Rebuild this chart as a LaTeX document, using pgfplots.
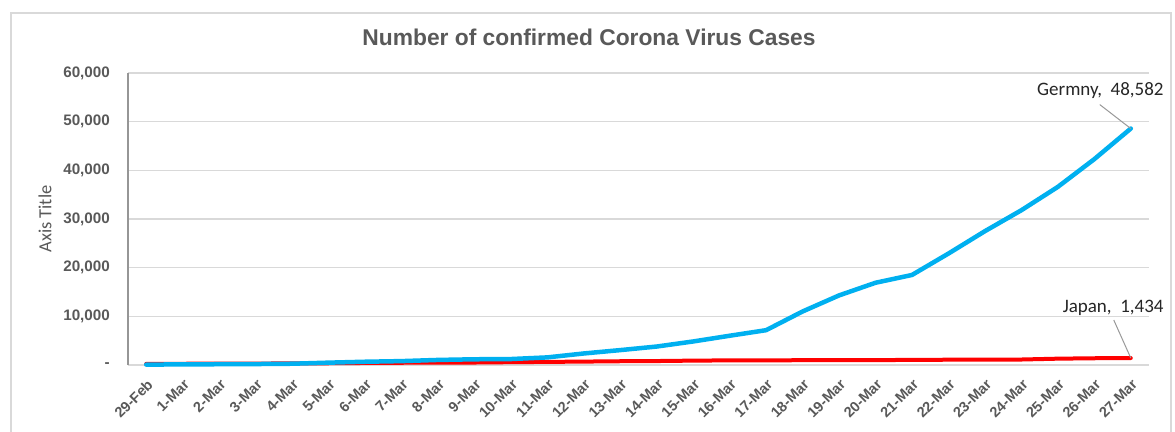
\documentclass[border=0pt]{standalone}
\usepackage{pgfplots}
\pgfplotsset{compat=1.18}
\usepackage{fontspec}
\setmainfont{Liberation Sans}
\newfontfamily\calibri{Carlito}
\definecolor{gridgray}{HTML}{D9D9D9}
\definecolor{txtgray}{HTML}{595959}
\definecolor{axgray}{HTML}{969696}
\definecolor{lblue}{HTML}{00B0F0}
\definecolor{lred}{HTML}{FF0000}
\definecolor{framegray}{HTML}{D9D9D9}
\definecolor{lblgray}{HTML}{262626}

\pgfplotstableread{
x y
0 241
1 256
2 274
3 293
4 331
5 360
6 420
7 461
8 502
9 511
10 581
11 639
12 701
13 773
14 814
15 900
16 950
17 970
18 980
19 1000
20 1007
21 1046
22 1086
23 1089
24 1128
25 1300
26 1387
27 1434
}\japan

\pgfplotstableread{
x y
0 79
1 130
2 159
3 196
4 262
5 482
6 670
7 799
8 1040
9 1176
10 1224
11 1565
12 2369
13 3062
14 3795
15 4838
16 6012
17 7156
18 11000
19 14300
20 16900
21 18500
22 22900
23 27500
24 31800
25 36600
26 42300
27 48582
}\germany

\begin{document}
\begin{tikzpicture}
\useasboundingbox (0pt,0pt) rectangle (1175pt,-431pt);
\fill[white] (0pt,0pt) rectangle (1175pt,-431pt);
\draw[framegray, line width=2pt] (10.5pt,-13pt) rectangle (1171pt,-470pt);
\node[anchor=base, font=\fontsize{22.8}{26}\selectfont\bfseries, text=txtgray] at (589pt,-45pt) {Number of confirmed Corona Virus Cases};
\node[rotate=90, font=\calibri\fontsize{18.5}{22}\selectfont, text=txtgray] at (45pt,-219pt) {Axis Title};
\begin{axis}[
  at={(128pt,-365pt)}, anchor=south west,
  scale only axis, width=1021pt, height=292pt,
  xmin=-0.5, xmax=27.5, ymin=0, ymax=60000,
  clip=false,
  scaled y ticks=false,
  axis line style={draw=none},
  major tick length=0pt,
  ymajorgrids, grid style={draw=gridgray, line width=1.5pt},
  ytick={0,10000,20000,30000,40000,50000,60000},
  yticklabels={{-},{10,000},{20,000},{30,000},{40,000},{50,000},{60,000}},
  yticklabel style={anchor=east, inner sep=0pt, xshift=-18pt, font=\fontsize{15.2}{17}\selectfont\bfseries, text=txtgray},
  xtick={0,...,27},
  xticklabels={29-Feb,1-Mar,2-Mar,3-Mar,4-Mar,5-Mar,6-Mar,7-Mar,8-Mar,9-Mar,10-Mar,11-Mar,12-Mar,13-Mar,14-Mar,15-Mar,16-Mar,17-Mar,18-Mar,19-Mar,20-Mar,21-Mar,22-Mar,23-Mar,24-Mar,25-Mar,26-Mar,27-Mar},
  xticklabel style={xshift=4pt, yshift=-17pt, rotate=45, anchor=east, inner sep=0pt, font=\fontsize{14.5}{17}\selectfont\bfseries, text=txtgray},
]
\draw[axgray, line width=1.5pt] (rel axis cs:0,0) -- (rel axis cs:0,1);
\addplot[lred, line width=4pt, line cap=round, line join=round, no marks] table[x=x,y=y] {\japan};
\addplot[lblue, line width=4.5pt, line cap=round, line join=round, no marks] table[x=x,y=y] {\germany};
\draw[gray!80, line width=1pt] (axis cs:27,48582) -- ++(-31pt,24pt);
\node[anchor=base east, inner sep=0pt, xshift=33pt, yshift=33pt, font=\calibri\fontsize{19}{22}\selectfont, text=lblgray] at (axis cs:27,48582) {Germny,\ \ 48,582};
\draw[gray!80, line width=1pt] (axis cs:27,1434) -- ++(-17pt,38pt);
\node[anchor=base east, inner sep=0pt, xshift=33pt, yshift=46pt, font=\calibri\fontsize{19}{22}\selectfont, text=lblgray] at (axis cs:27,1434) {Japan,\ \ 1,434};
\end{axis}
\end{tikzpicture}
\end{document}
